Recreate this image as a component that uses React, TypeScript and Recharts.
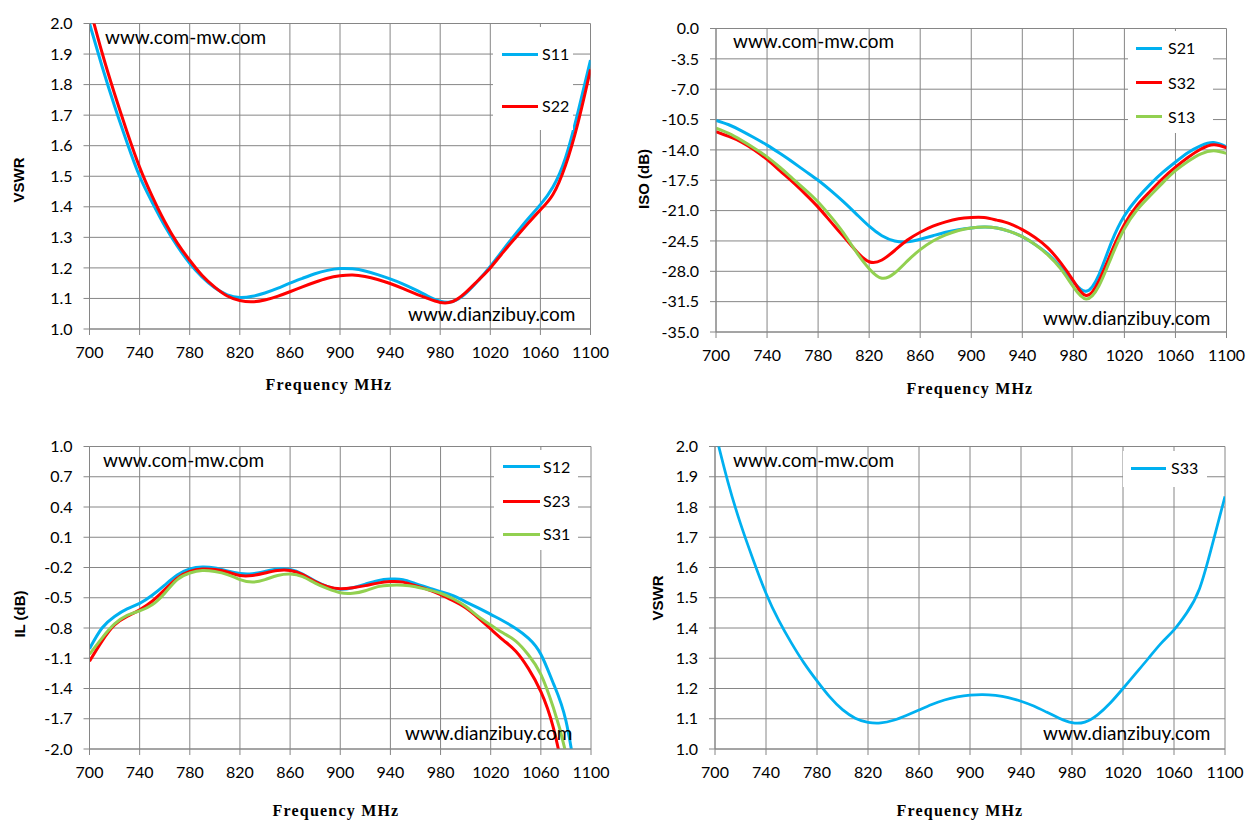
import React from 'react';
import { LineChart, Line, XAxis, YAxis, CartesianGrid, Legend } from 'recharts';

// ---------- data ----------
const freq = [700, 710, 720, 730, 740, 750, 760, 770, 780, 790, 800, 810, 820, 830, 840, 850, 860, 870, 880, 890, 900, 910, 920, 930, 940, 950, 960, 970, 980, 990, 1000, 1010, 1020, 1030, 1040, 1050, 1060, 1070, 1080, 1090, 1100];
const freqTicks = [700, 740, 780, 820, 860, 900, 940, 980, 1020, 1060, 1100];
const vswrTicks = [1.0, 1.1, 1.2, 1.3, 1.4, 1.5, 1.6, 1.7, 1.8, 1.9, 2.0];
const isoTicks = [0, -3.5, -7, -10.5, -14, -17.5, -21, -24.5, -28, -31.5, -35];
const ilTicks = [1.0, 0.7, 0.4, 0.1, -0.2, -0.5, -0.8, -1.1, -1.4, -1.7, -2.0];

const s11 = [2.0, 1.86, 1.73, 1.61, 1.5, 1.415, 1.338, 1.272, 1.215, 1.17, 1.135, 1.112, 1.103, 1.107, 1.118, 1.133, 1.15, 1.166, 1.181, 1.192, 1.198, 1.197, 1.19, 1.178, 1.164, 1.148, 1.129, 1.108, 1.091, 1.09, 1.115, 1.157, 1.205, 1.258, 1.31, 1.36, 1.407, 1.465, 1.56, 1.71, 1.88];
const s22 = [2.055, 1.905, 1.77, 1.645, 1.53, 1.435, 1.352, 1.282, 1.225, 1.175, 1.137, 1.108, 1.093, 1.089, 1.095, 1.107, 1.122, 1.138, 1.153, 1.166, 1.174, 1.177, 1.172, 1.162, 1.149, 1.133, 1.116, 1.1, 1.087, 1.09, 1.118, 1.158, 1.2, 1.25, 1.298, 1.345, 1.39, 1.44, 1.535, 1.675, 1.85];

const s21 = [-10.6, -11.1, -11.8, -12.6, -13.45, -14.4, -15.4, -16.45, -17.5, -18.7, -20.0, -21.4, -22.8, -23.9, -24.5, -24.6, -24.3, -23.9, -23.5, -23.2, -23.0, -22.9, -23.0, -23.4, -24.0, -24.9, -26.0, -27.5, -29.2, -30.3, -28.4, -24.6, -21.6, -19.6, -18.0, -16.6, -15.4, -14.3, -13.5, -13.15, -13.65];
const s32 = [-11.9, -12.45, -13.1, -14.0, -15.1, -16.4, -17.7, -19.1, -20.6, -22.3, -24.0, -25.7, -26.9, -26.7, -25.6, -24.4, -23.5, -22.8, -22.3, -21.95, -21.8, -21.8, -22.1, -22.5, -23.2, -24.1, -25.3, -27.0, -29.1, -30.8, -29.1, -25.7, -22.6, -20.4, -18.8, -17.3, -16.0, -14.85, -13.9, -13.4, -13.75];
const s13 = [-11.5, -12.1, -12.9, -13.8, -14.8, -16.0, -17.3, -18.6, -20.0, -21.7, -23.6, -25.8, -27.7, -28.8, -28.2, -26.8, -25.5, -24.5, -23.8, -23.3, -23.0, -22.9, -23.0, -23.4, -24.0, -24.9, -26.1, -27.7, -29.8, -31.2, -29.7, -26.3, -23.1, -20.9, -19.3, -17.8, -16.4, -15.3, -14.45, -14.1, -14.4];

const s12 = [-1.005, -0.8, -0.685, -0.61, -0.555, -0.475, -0.375, -0.275, -0.215, -0.195, -0.205, -0.235, -0.26, -0.262, -0.24, -0.215, -0.22, -0.265, -0.335, -0.39, -0.415, -0.4, -0.365, -0.33, -0.315, -0.32, -0.36, -0.4, -0.44, -0.48, -0.54, -0.6, -0.665, -0.73, -0.805, -0.9, -1.06, -1.35, -1.72, -2.45, -3.3];
const s23 = [-1.13, -0.93, -0.77, -0.685, -0.62, -0.535, -0.42, -0.305, -0.24, -0.215, -0.22, -0.245, -0.28, -0.28, -0.255, -0.23, -0.23, -0.27, -0.34, -0.39, -0.41, -0.4, -0.38, -0.355, -0.34, -0.345, -0.38, -0.42, -0.47, -0.53, -0.6, -0.7, -0.81, -0.92, -1.03, -1.2, -1.43, -1.79, -2.4, -3.2, -4.0];
const s31 = [-1.06, -0.9, -0.76, -0.675, -0.63, -0.57, -0.455, -0.32, -0.255, -0.23, -0.24, -0.27, -0.32, -0.345, -0.32, -0.28, -0.265, -0.29, -0.355, -0.41, -0.45, -0.455, -0.43, -0.39, -0.375, -0.375, -0.39, -0.42, -0.455, -0.51, -0.585, -0.685, -0.77, -0.85, -0.93, -1.065, -1.26, -1.59, -2.05, -2.8, -3.6];

const s33 = [2.05, 1.885, 1.745, 1.625, 1.515, 1.425, 1.35, 1.283, 1.225, 1.172, 1.13, 1.102, 1.088, 1.086, 1.095, 1.111, 1.129, 1.147, 1.162, 1.172, 1.178, 1.18, 1.177, 1.17, 1.158, 1.142, 1.122, 1.102, 1.087, 1.089, 1.113, 1.152, 1.2, 1.25, 1.3, 1.35, 1.394, 1.45, 1.53, 1.675, 1.835];

// ---------- styles ----------
const BLUE = '#00B0F0';
const RED = '#FF0000';
const GREEN = '#92D050';
const GRID = '#868686';
const TICK_FONT = 'Lato, "Open Sans", sans-serif';

type Series = { name: string; values: number[]; color: string; width: number };
type Rect = { left: number; top: number; width: number; height: number };
type Plot = { x0: number; x1: number; y0: number; y1: number };
type LegendCfg = Rect & { lineX0: number; lineX1: number; textX: number; rows: number[] };
type Mark = { text: string; left: number; baseline: number };

const YW = 60;
const XH = 40;

function LegendBox({ payload, cfg, order }: { payload?: any[]; cfg: LegendCfg; order: string[] }) {
  const items = order
    .map((n) => (payload || []).find((p: any) => p.value === n))
    .filter(Boolean) as any[];
  return (
    <div style={{ position: 'relative', width: cfg.width, height: cfg.height, background: '#fff' }}>
      {items.map((p: any, i: number) => (
        <React.Fragment key={i}>
          <div
            style={{
              position: 'absolute',
              left: cfg.lineX0,
              width: cfg.lineX1 - cfg.lineX0,
              top: cfg.rows[i] - 1.5,
              height: 3,
              background: p.color,
            }}
          />
          <div
            style={{
              position: 'absolute',
              left: cfg.textX,
              top: cfg.rows[i] - 10,
              lineHeight: '20px',
              fontSize: 16,
              fontFamily: TICK_FONT,
              color: '#000',
              whiteSpace: 'nowrap',
            }}
          >
            {p.value}
          </div>
        </React.Fragment>
      ))}
    </div>
  );
}

function Panel(props: {
  box: Rect;
  plot: Plot;
  yDomain: [number, number];
  yTicks: number[];
  series: Series[];
  legend: LegendCfg;
  yTitle: string;
  yTitleAt: [number, number];
  xTitleAt: [number, number];
  marks: Mark[];
}) {
  const { box, plot, yDomain, yTicks, series, legend, yTitle, yTitleAt, xTitleAt, marks } = props;
  const data = freq.map((f, i) => {
    const row: any = { f };
    series.forEach((s) => {
      row[s.name] = s.values[i];
    });
    return row;
  });
  const margin = {
    left: plot.x0 - box.left - YW,
    right: box.left + box.width - plot.x1,
    top: plot.y0 - box.top,
    bottom: box.top + box.height - plot.y1 - XH,
  };
  const order = series.map((s) => s.name);
  const markFs = 19;
  const markLH = 22;
  const baseOff = (markLH - 1.2 * markFs) / 2 + 0.987 * markFs;
  return (
    <div style={{ position: 'absolute', left: box.left, top: box.top, width: box.width, height: box.height }}>
      <LineChart width={box.width} height={box.height} data={data} margin={margin}>
        <CartesianGrid stroke={GRID} strokeWidth={1} />
        <XAxis
          dataKey="f"
          type="number"
          domain={[700, 1100]}
          ticks={freqTicks}
          interval={0}
          height={XH}
          allowDataOverflow
          tickSize={6}
          tickMargin={12}
          axisLine={{ stroke: GRID }}
          tickLine={{ stroke: GRID }}
          tick={{ fill: '#000', fontSize: 16, fontFamily: TICK_FONT }}
        />
        <YAxis
          type="number"
          domain={yDomain}
          ticks={yTicks}
          interval={0}
          width={YW}
          allowDataOverflow
          tickSize={6}
          tickMargin={11}
          axisLine={{ stroke: GRID }}
          tickLine={{ stroke: GRID }}
          tickFormatter={(v: number) => v.toFixed(1)}
          tick={{ fill: '#000', fontSize: 16, fontFamily: TICK_FONT }}
        />
        {series.map((s) => (
          <Line
            key={s.name}
            type="natural"
            dataKey={s.name}
            name={s.name}
            stroke={s.color}
            strokeWidth={s.width}
            dot={false}
            activeDot={false}
            isAnimationActive={false}
          />
        ))}
        <Legend
          layout="vertical"
          align="center"
          verticalAlign="middle"
          content={(p: any) => <LegendBox payload={p.payload} cfg={legend} order={order} />}
          wrapperStyle={{
            left: legend.left - box.left,
            top: legend.top - box.top,
            width: legend.width,
            height: legend.height,
            margin: 0,
            padding: 0,
          }}
        />
      </LineChart>
      {marks.map((m, i) => (
        <div
          key={i}
          style={{
            position: 'absolute',
            left: m.left - box.left,
            top: m.baseline - box.top - baseOff,
            fontSize: markFs,
            lineHeight: markLH + 'px',
            fontFamily: TICK_FONT,
            color: '#000',
            whiteSpace: 'nowrap',
            pointerEvents: 'none',
          }}
        >
          {m.text}
        </div>
      ))}
      <div
        style={{
          position: 'absolute',
          left: yTitleAt[0] - box.left - 60,
          top: yTitleAt[1] - box.top - 10,
          width: 120,
          height: 20,
          lineHeight: '20px',
          textAlign: 'center',
          transform: 'rotate(-90deg)',
          fontFamily: '"Liberation Sans", Arial, sans-serif',
          fontWeight: 'bold',
          fontSize: 15,
          color: '#000',
          whiteSpace: 'nowrap',
        }}
      >
        {yTitle}
      </div>
      <div
        style={{
          position: 'absolute',
          left: xTitleAt[0] - box.left - 120,
          top: xTitleAt[1] - box.top - 10,
          width: 240,
          height: 20,
          lineHeight: '20px',
          textAlign: 'center',
          fontFamily: '"Liberation Serif", "DejaVu Serif", serif',
          fontWeight: 'bold',
          fontSize: 16,
          letterSpacing: '1.2px',
          color: '#000',
          whiteSpace: 'nowrap',
        }}
      >
        Frequency MHz
      </div>
    </div>
  );
}

export default function App() {
  return (
    <div style={{ position: 'absolute', left: 0, top: 0, width: 1253, height: 835, background: '#fff', overflow: 'hidden' }}>
      <Panel
        box={{ left: 0, top: 0, width: 626, height: 417 }}
        plot={{ x0: 89.5, x1: 590.5, y0: 23.5, y1: 329 }}
        yDomain={[1, 2]}
        yTicks={vswrTicks}
        series={[
          { name: 'S11', values: s11, color: BLUE, width: 3 },
          { name: 'S22', values: s22, color: RED, width: 3 },
        ]}
        legend={{ left: 493, top: 27, width: 80, height: 103, lineX0: 9, lineX1: 45, textX: 49, rows: [27, 79] }}
        yTitle="VSWR"
        yTitleAt={[19, 180]}
        xTitleAt={[329, 385]}
        marks={[
          { text: 'www.com-mw.com', left: 105, baseline: 44 },
          { text: 'www.dianzibuy.com', left: 408, baseline: 321 },
        ]}
      />
      <Panel
        box={{ left: 626, top: 0, width: 627, height: 417 }}
        plot={{ x0: 716, x1: 1226.5, y0: 28.5, y1: 332 }}
        yDomain={[-35, 0]}
        yTicks={isoTicks}
        series={[
          { name: 'S21', values: s21, color: BLUE, width: 3 },
          { name: 'S32', values: s32, color: RED, width: 3 },
          { name: 'S13', values: s13, color: GREEN, width: 3 },
        ]}
        legend={{ left: 1128, top: 31, width: 85, height: 102, lineX0: 8, lineX1: 34, textX: 40, rows: [17.3, 51.7, 85.7] }}
        yTitle="ISO (dB)"
        yTitleAt={[644, 179]}
        xTitleAt={[970, 389]}
        marks={[
          { text: 'www.com-mw.com', left: 733, baseline: 48.5 },
          { text: 'www.dianzibuy.com', left: 1043, baseline: 325 },
        ]}
      />
      <Panel
        box={{ left: 0, top: 417, width: 626, height: 418 }}
        plot={{ x0: 89.5, x1: 591, y0: 446.5, y1: 749 }}
        yDomain={[-2, 1]}
        yTicks={ilTicks}
        series={[
          { name: 'S12', values: s12, color: BLUE, width: 3 },
          { name: 'S23', values: s23, color: RED, width: 3 },
          { name: 'S31', values: s31, color: GREEN, width: 3 },
        ]}
        legend={{ left: 494, top: 450, width: 84, height: 100, lineX0: 9, lineX1: 46, textX: 49, rows: [16.7, 51, 84.3] }}
        yTitle="IL (dB)"
        yTitleAt={[19.5, 614]}
        xTitleAt={[336, 811]}
        marks={[
          { text: 'www.com-mw.com', left: 103, baseline: 467 },
          { text: 'www.dianzibuy.com', left: 405, baseline: 740 },
        ]}
      />
      <Panel
        box={{ left: 626, top: 417, width: 627, height: 418 }}
        plot={{ x0: 715, x1: 1225, y0: 446.5, y1: 749 }}
        yDomain={[1, 2]}
        yTicks={vswrTicks}
        series={[{ name: 'S33', values: s33, color: BLUE, width: 2.75 }]}
        legend={{ left: 1123, top: 451, width: 84, height: 36, lineX0: 8, lineX1: 43, textX: 48, rows: [17.3] }}
        yTitle="VSWR"
        yTitleAt={[658, 598]}
        xTitleAt={[960, 811]}
        marks={[
          { text: 'www.com-mw.com', left: 733, baseline: 467 },
          { text: 'www.dianzibuy.com', left: 1043, baseline: 740 },
        ]}
      />
    </div>
  );
}
